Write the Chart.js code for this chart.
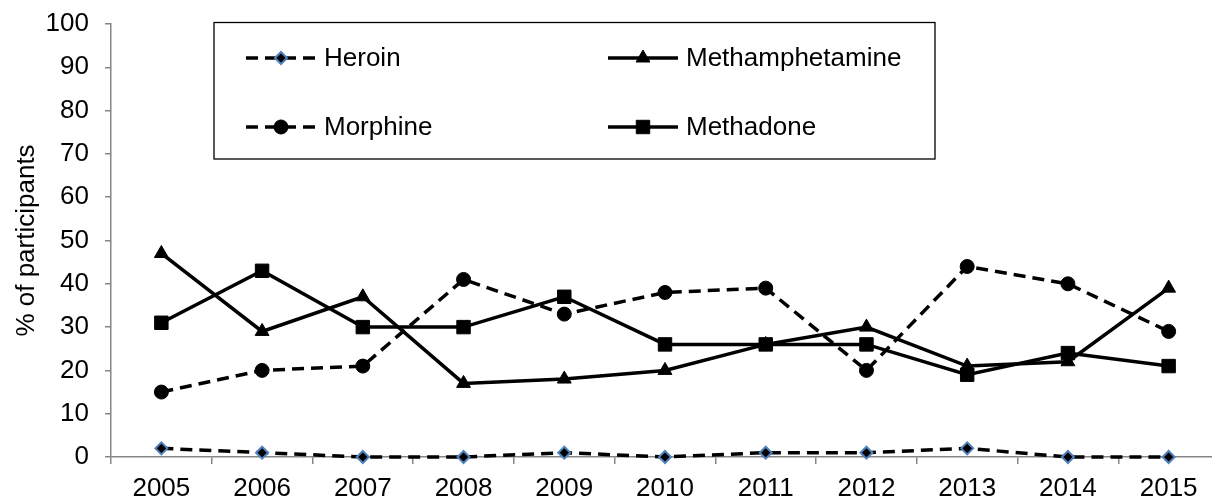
<!DOCTYPE html>
<html><head><meta charset="utf-8">
<script src="https://cdn.jsdelivr.net/npm/chart.js@4"></script>
<style>html,body{margin:0;padding:0;background:#fff;overflow:hidden}#w{width:1219px;height:500px;position:relative}</style>
</head><body><div id="w"><canvas id="c"></canvas></div>
<script>
const years = ['2005','2006','2007','2008','2009','2010','2011','2012','2013','2014','2015'];
const heroin = [2,1,0,0,1,0,1,1,2,0,0];
const methamphetamine = [47,29,37,17,18,20,26,30,21,22,39];
const morphine = [15,20,21,41,33,38,39,20,44,40,29];
const methadone = [31,43,30,30,37,26,26,26,19,24,21];
const yTicks = [0,10,20,30,40,50,60,70,80,90,100];
const FONT = '"Liberation Sans", Arial, sans-serif';
const FS = 26;
const AX = '#868686';

const legendPlugin = {
  id:'boxLegend',
  afterDraw(chart){
    const ctx = chart.ctx;
    ctx.save();
    ctx.strokeStyle='#000'; ctx.lineWidth=1.3;
    ctx.strokeRect(214,22.5,721,136.5);
    const items = [
      {i:0,x:246,y:58},{i:1,x:608,y:58},{i:2,x:246,y:127},{i:3,x:608,y:127}
    ];
    items.forEach(it=>{
      const ds = chart.data.datasets[it.i];
      ctx.strokeStyle='#000'; ctx.lineWidth=3.5; ctx.lineCap='butt';
      ctx.setLineDash(ds.borderDash||[]);
      ctx.beginPath(); ctx.moveTo(it.x,it.y); ctx.lineTo(it.x+70,it.y); ctx.stroke();
      ctx.setLineDash([]);
      ctx.fillStyle=ds.pointBackgroundColor; ctx.strokeStyle=ds.pointBorderColor; ctx.lineWidth=ds.pointBorderWidth||1;
      Chart.helpers.drawPoint(ctx,{pointStyle:ds.pointStyle,radius:ds.pointRadius,borderWidth:ds.pointBorderWidth||1,rotation:0},it.x+35,it.y);
      ctx.fillStyle='#000'; ctx.font=FS+'px '+FONT; ctx.textBaseline='middle'; ctx.textAlign='left';
      ctx.fillText(ds.label,it.x+78,it.y+1);
    });
    ctx.restore();
  }
};

const common = {borderColor:'#000',borderWidth:3.5,tension:0,clip:false,pointBackgroundColor:'#000',pointBorderColor:'#000',pointBorderWidth:1};
new Chart(document.getElementById('c'),{
  type:'line',
  data:{labels:years,datasets:[
    Object.assign({},common,{label:'Heroin',data:heroin,borderDash:[12,7],pointStyle:'rectRot',pointRadius:6,pointBorderColor:'#4f81bd',pointBorderWidth:2}),
    Object.assign({},common,{label:'Methamphetamine',data:methamphetamine,pointStyle:'triangle',pointRadius:8}),
    Object.assign({},common,{label:'Morphine',data:morphine,borderDash:[12,7],pointStyle:'circle',pointRadius:7}),
    Object.assign({},common,{label:'Methadone',data:methadone,pointStyle:'rect',pointRadius:9.5})
  ]},
  options:{
    responsive:true,maintainAspectRatio:false,animation:false,
    layout:{padding:{top:24,left:0,right:0,bottom:0},autoPadding:false},
    plugins:{legend:{display:false},tooltip:{enabled:false}},
    scales:{
      x:{offset:true,
        grid:{offset:true,drawOnChartArea:false,color:AX,tickLength:7,tickColor:AX,lineWidth:1.5},
        border:{color:AX,width:1.5},
        ticks:{color:'#000',font:{family:FONT,size:FS},padding:9,maxRotation:0,autoSkip:false},
        afterFit(s){s.height=43;s.paddingLeft=0;s.paddingRight=0;}
      },
      y:{min:0,max:100,
        afterBuildTicks(s){s.ticks=yTicks.map(v=>({value:v}));},
        grid:{drawOnChartArea:false,color:AX,tickLength:6,tickColor:AX,lineWidth:1.5},
        border:{color:AX,width:1.5},
        ticks:{color:'#000',font:{family:FONT,size:FS},padding:16},
        title:{display:true,text:'% of participants',color:'#000',font:{family:FONT,size:FS},padding:{top:11,bottom:0}},
        afterFit(s){s.width=111;s.paddingTop=0;s.paddingBottom=0;}
      }
    }
  },
  plugins:[legendPlugin]
});
</script></body></html>
